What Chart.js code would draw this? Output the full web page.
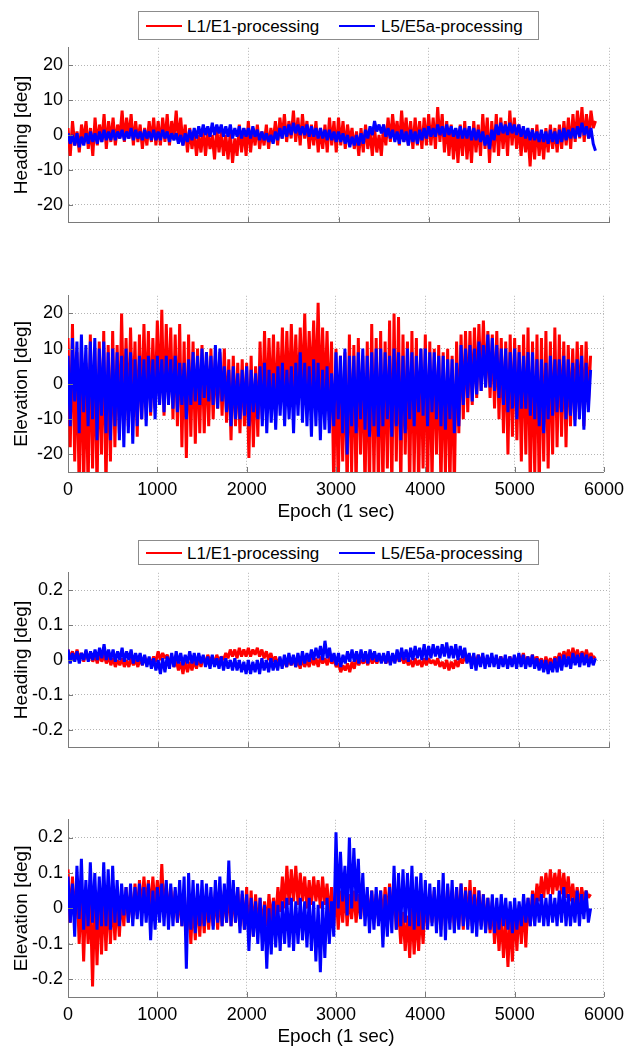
<!DOCTYPE html>
<html>
<head>
<meta charset="utf-8">
<script src="https://cdn.jsdelivr.net/npm/chart.js@4.4.0/dist/chart.umd.min.js"></script>
<style>
  html, body { margin: 0; padding: 0; background: #fff; overflow: hidden; }
  body { position: relative; width: 631px; height: 1049px; font-family: "Liberation Sans", Arial, sans-serif; }
  canvas.panel { position: absolute; left: 0; }
  .legend { position: absolute; left: 138px; width: 399px; border: 1px solid #8c8c8c; background: #fff; z-index: 5; font-size: 17px; color: #000; }
  .legend .line { position: absolute; width: 36px; height: 2px; top: 50%; margin-top: -1px; }
  .legend .txt { position: absolute; top: 50%; transform: translateY(-50%); line-height: 1; white-space: nowrap; }
</style>
</head>
<body>

<div class="legend" style="top:11px;height:27px;">
  <span class="line" style="left:7px;background:#ff0000;"></span><span class="txt" style="left:48px;">L1/E1-processing</span>
  <span class="line" style="left:200px;background:#0000ff;"></span><span class="txt" style="left:242px;">L5/E5a-processing</span>
</div>
<div class="legend" style="top:540px;height:23px;">
  <span class="line" style="left:7px;background:#ff0000;"></span><span class="txt" style="left:48px;">L1/E1-processing</span>
  <span class="line" style="left:200px;background:#0000ff;"></span><span class="txt" style="left:242px;">L5/E5a-processing</span>
</div>

<script>
// sample epochs (1 sec), one reading every 25 epochs
const epochs = [
  0, 25, 50, 75, 100, 125, 150, 175, 200, 225, 250, 275, 300, 325, 350, 375, 400, 425, 450, 475,
  500, 525, 550, 575, 600, 625, 650, 675, 700, 725, 750, 775, 800, 825, 850, 875, 900, 925, 950, 975,
  1000, 1025, 1050, 1075, 1100, 1125, 1150, 1175, 1200, 1225, 1250, 1275, 1300, 1325, 1350, 1375, 1400, 1425, 1450, 1475,
  1500, 1525, 1550, 1575, 1600, 1625, 1650, 1675, 1700, 1725, 1750, 1775, 1800, 1825, 1850, 1875, 1900, 1925, 1950, 1975,
  2000, 2025, 2050, 2075, 2100, 2125, 2150, 2175, 2200, 2225, 2250, 2275, 2300, 2325, 2350, 2375, 2400, 2425, 2450, 2475,
  2500, 2525, 2550, 2575, 2600, 2625, 2650, 2675, 2700, 2725, 2750, 2775, 2800, 2825, 2850, 2875, 2900, 2925, 2950, 2975,
  3000, 3025, 3050, 3075, 3100, 3125, 3150, 3175, 3200, 3225, 3250, 3275, 3300, 3325, 3350, 3375, 3400, 3425, 3450, 3475,
  3500, 3525, 3550, 3575, 3600, 3625, 3650, 3675, 3700, 3725, 3750, 3775, 3800, 3825, 3850, 3875, 3900, 3925, 3950, 3975,
  4000, 4025, 4050, 4075, 4100, 4125, 4150, 4175, 4200, 4225, 4250, 4275, 4300, 4325, 4350, 4375, 4400, 4425, 4450, 4475,
  4500, 4525, 4550, 4575, 4600, 4625, 4650, 4675, 4700, 4725, 4750, 4775, 4800, 4825, 4850, 4875, 4900, 4925, 4950, 4975,
  5000, 5025, 5050, 5075, 5100, 5125, 5150, 5175, 5200, 5225, 5250, 5275, 5300, 5325, 5350, 5375, 5400, 5425, 5450, 5475,
  5500, 5525, 5550, 5575, 5600, 5625, 5650, 5675, 5700, 5725, 5750, 5775, 5800, 5825, 5850
];

// upper block: heading / elevation error [deg]
const l1Heading = [
  2, -6, 4, -3, 1, -5, 3, -2, 4, -4, 2, -6, 5, -3, 3, -2, 6, -4, 4, -2,
  5, -3, 3, -1, 7, -2, 5, -1, 6, -3, 4, -2, 3, -4, 2, -3, 4, -2, 5, -3,
  4, -3, 5, -2, 6, -3, 4, -1, 7, -2, 5, -3, 3, -5, 2, -4, 1, -6, 0, -5,
  2, -6, 1, -4, 0, -7, 2, -5, 1, -6, 0, -7, 1, -8, -1, -6, 3, -5, 2, -6,
  4, -5, 2, -3, 3, -4, 1, -3, 3, -4, 2, -2, 4, -3, 5, -1, 6, -2, 4, -1,
  7, -2, 5, -3, 6, -1, 4, -4, 3, -3, 4, -5, 2, -4, 3, -5, 5, -3, 4, -5,
  5, -3, 4, -4, 3, -2, 2, -4, 1, -6, 2, -5, 3, -4, 1, -6, 2, -5, 0, -6,
  3, -3, 5, -2, 6, -1, 4, -3, 7, -2, 5, -3, 4, -4, 5, -3, 4, -4, 5, -3,
  6, -3, 5, -4, 8, -2, 6, -5, 4, -6, 3, -7, 2, -8, 3, -6, 4, -7, 2, -8,
  4, -5, 3, -6, 6, -4, 5, -8, 4, -5, 6, -6, 5, -4, 4, -6, 7, -3, 5, -4,
  3, -6, 2, -5, 1, -9, 2, -7, 3, -6, 1, -7, 2, -5, 3, -4, 2, -5, 3, -4,
  4, -3, 5, -4, 6, -2, 7, -1, 8, -2, 6, -1, 7, 2, 4
];
const l5Heading = [
  0.5, -2.5, 0, -3, 0.5, -3.5, -0.5, -3, 0.5, -2.5, 1, -2, 0.5, -2.5, 1, -2, 1.5, -1.5, 1, -1.5,
  1.5, -1.5, 1, -1, 1.5, -1.5, 1, -1, 2, -1.5, 1.5, -1, 1, -1.5, 1.5, -1, 1, -1.5, 1.5, -1.5,
  1, -1.5, 1.5, -1, 1, -2, 0.5, -1.5, 0.5, -2.5, 0, -3, 0.5, -2, 1.5, -1.5, 2, -1, 2.5, -0.5,
  3, 0, 2.5, -0.5, 3.5, 0, 3, 0.5, 3, -0.5, 2.5, -0.5, 3, -1, 2, -0.5, 2.5, -1, 2, -0.5,
  2, -1, 2.5, -0.5, 1.5, -1.5, 1, -1.5, 0.5, -2, 0, -2.5, 1, -1.5, 2, -1, 2.5, -0.5, 3, 0,
  3.5, 0.5, 3, 0, 2.5, 0, 3, -0.5, 2.5, -0.5, 2, -1, 2, -1, 1.5, -1.5, 1.5, -1.5, 1, -2,
  1, -2, 0.5, -2.5, 0, -3.5, -0.5, -3, 0, -3, 0.5, -2.5, 1.5, -1, 2.5, 0, 4, 1, 3, 0.5,
  3, -0.5, 2, -1, 1.5, -2, 1, -2.5, 1.5, -2, 1, -3, 1.5, -2, 1, -2.5, 1.5, -1.5, 2, -1,
  2.5, -0.5, 2, -0.5, 3, 0, 2.5, -0.5, 3, 0, 2.5, -0.5, 2, -1, 2.5, -1, 2, -1, 2.5, -1.5,
  2, -1.5, 1.5, -2, 1, -3, 0, -4, 1.5, -1.5, 3, 0, 3.5, 0.5, 3, 0, 3.5, 0.5, 3, 0,
  3, -0.5, 2.5, -1, 2, -1.5, 1.5, -1.5, 1, -2, 1.5, -2, 1, -2.5, 1.5, -2, 1, -2.5, 1.5, -2,
  2, -1.5, 1.5, -1, 2, -1, 2.5, -0.5, 3.5, 0, 2.5, -1, 2, -2.5, -4.5
];
const l1Elevation = [
  13, -18, 17, -22, 9, -30, 12, -30, 6, -30, 14, -24, 10, -30, 12, -20, 15, -30, 11, -22,
  15, -18, 11, -14, 20, -10, 13, -12, 16, -8, 12, -15, 14, -10, 17, -6, 15, -9, 13, -7,
  18, -6, 21, -9, 17, -5, 16, -10, 14, -12, 17, -18, 12, -21, 14, -15, 12, -17, 10, -14,
  11, -14, 9, -12, 10, -10, 8, -7, 9, -9, 10, -11, 7, -16, 8, -12, 6, -14, 7, -12,
  6, -21, 8, -18, 5, -15, 12, -10, 15, -8, 13, -6, 14, -9, 12, -5, 16, -7, 15, -6,
  17, -4, 14, -6, 16, -3, 20, -5, 15, -2, 18, -4, 23, -6, 16, -5, 15, -10, 12, -30,
  10, -30, 8, -22, 9, -30, 14, -25, 11, -30, 13, -20, 8, -30, 12, -30, 17, -26, 13, -30,
  15, -30, 12, -24, 18, -30, 20, -22, 19, -30, 14, -20, 12, -30, 15, -25, 13, -30, 10, -24,
  14, -30, 12, -28, 10, -20, 11, -30, 9, -26, 10, -30, 8, -30, 12, -14, 14, -10, 15, -8,
  15, -6, 16, -4, 17, -2, 18, -1, 15, -4, 14, -7, 15, -10, 13, -14, 12, -20, 14, -15,
  13, -16, 11, -22, 14, -20, 16, -30, 12, -26, 14, -30, 13, -22, 15, -24, 12, -20, 16, -18,
  14, -15, 12, -18, 11, -12, 10, -10, 12, -8, 11, -12, 12, -6, 8
];
const l5Elevation = [
  8, -12, 13, -5, 12, -14, 14, -8, 11, -12, 12, -10, 13, -16, 10, -9, 12, -14, 9, -16,
  10, -12, 9, -16, 8, -18, 10, -14, 9, -17, 7, -12, 8, -10, 7, -12, 8, -8, 7, -10,
  8, -6, 7, -8, 8, -6, 7, -7, 8, -8, 6, -6, 6, -10, 7, -6, 9, -5, 8, -6,
  10, -4, 9, -5, 8, -6, 11, -7, 10, -5, 5, -8, 4, -12, 5, -10, 3, -10, 4, -9,
  5, -12, 4, -8, 3, -10, 5, -12, 6, -14, 4, -11, 3, -13, 5, -9, 6, -12, 4, -10,
  5, -14, 6, -9, 9, -11, 6, -12, 5, -15, 7, -12, 6, -16, 4, -13, 5, -14, 3, -12,
  9, -10, 8, -14, 10, -20, 8, -12, 8, -14, 9, -10, 10, -13, 8, -15, 9, -12, 10, -15,
  10, -12, 9, -10, 8, -15, 10, -12, 9, -16, 8, -14, 10, -10, 9, -12, 8, -8, 10, -9,
  10, -12, 9, -8, 9, -10, 8, -12, 8, -13, 7, -10, 7, -14, 6, -12, 11, -6, 10, -4,
  11, -5, 10, -3, 12, -2, 11, -1, 14, -1, 13, -2, 11, -4, 10, -6, 10, -8, 9, -7,
  10, -10, 9, -7, 8, -7, 9, -9, 9, -10, 7, -12, 7, -14, 6, -10, 8, -9, 7, -8,
  7, -8, 8, -10, 7, -9, 6, -12, 7, -10, 8, -13, 6, -8, 4
];

// lower block: heading / elevation error [deg]
const l1HeadingFix = [
  0.03, 0.005, 0.025, 0.0, 0.03, 0.005, 0.02, -0.005, 0.025, 0.0, 0.02, -0.005, 0.015, -0.01, 0.02, -0.005, 0.015, -0.01, 0.01, -0.015,
  0.005, -0.02, 0.0, -0.015, 0.005, -0.02, 0.0, -0.02, 0.005, -0.015, 0.0, -0.02, 0.005, -0.015, 0.01, -0.01, 0.005, -0.01, 0.01, -0.005,
  0.025, 0.0, 0.02, 0.005, 0.015, -0.005, 0.005, -0.02, 0.0, -0.03, -0.005, -0.04, 0.0, -0.035, -0.005, -0.03, 0.0, -0.025, 0.005, -0.02,
  0.01, -0.01, 0.015, -0.005, 0.01, -0.01, 0.015, -0.005, 0.01, 0.0, 0.02, 0.005, 0.03, 0.01, 0.03, 0.005, 0.035, 0.01, 0.03, 0.01,
  0.035, 0.01, 0.03, 0.015, 0.035, 0.01, 0.03, 0.005, 0.025, 0.0, 0.02, -0.005, 0.01, -0.01, 0.005, -0.015, 0.0, -0.02, 0.005, -0.015,
  0.005, -0.02, 0.0, -0.025, 0.005, -0.02, 0.0, -0.02, 0.01, -0.015, 0.005, -0.02, 0.01, -0.01, 0.005, -0.015, 0.01, -0.01, 0.0, -0.02,
  -0.01, -0.035, -0.015, -0.03, -0.01, -0.035, -0.005, -0.025, 0.005, -0.015, 0.0, -0.01, 0.005, -0.015, 0.01, -0.01, 0.005, -0.01, 0.01, -0.005,
  0.01, -0.01, 0.005, -0.01, 0.01, -0.005, 0.015, -0.005, 0.01, -0.01, 0.005, -0.015, 0.0, -0.02, 0.005, -0.015, 0.0, -0.02, 0.005, -0.015,
  0.005, -0.01, 0.0, -0.015, 0.005, -0.02, -0.005, -0.025, 0.0, -0.03, -0.005, -0.025, 0.0, -0.02, 0.005, -0.01, 0.01, -0.005, 0.015, 0.0,
  0.01, -0.01, 0.015, -0.005, 0.01, -0.01, 0.005, -0.01, 0.01, -0.005, 0.005, -0.01, 0.01, -0.01, 0.005, -0.015, 0.01, -0.01, 0.005, -0.01,
  0.015, -0.005, 0.02, -0.01, 0.01, -0.015, 0.015, -0.005, 0.01, -0.01, 0.005, -0.02, 0.01, -0.015, 0.005, -0.015, 0.01, -0.005, 0.02, 0.0,
  0.025, 0.005, 0.03, 0.0, 0.035, 0.005, 0.03, 0.0, 0.025, 0.005, 0.03, 0.0, 0.02, 0.005, 0.01
];
const l5HeadingFix = [
  0.03, -0.01, 0.02, -0.005, 0.025, -0.01, 0.02, 0.0, 0.03, -0.005, 0.025, 0.0, 0.03, 0.0, 0.035, 0.005, 0.045, 0.0, 0.03, 0.0,
  0.03, -0.005, 0.025, 0.0, 0.035, -0.005, 0.025, 0.0, 0.03, -0.01, 0.02, -0.005, 0.02, -0.015, 0.015, -0.02, 0.01, -0.025, 0.005, -0.03,
  0.0, -0.04, 0.005, -0.035, 0.01, -0.025, 0.02, -0.02, 0.025, -0.01, 0.02, -0.015, 0.015, -0.01, 0.025, -0.01, 0.02, -0.015, 0.02, -0.01,
  0.015, -0.02, 0.01, -0.025, 0.015, -0.02, 0.005, -0.025, 0.01, -0.03, 0.005, -0.025, 0.0, -0.03, 0.005, -0.03, 0.0, -0.035, -0.005, -0.04,
  0.0, -0.04, -0.005, -0.035, 0.0, -0.04, 0.005, -0.03, 0.0, -0.035, 0.005, -0.03, 0.0, -0.03, 0.01, -0.025, 0.015, -0.02, 0.02, -0.015,
  0.015, -0.02, 0.02, -0.015, 0.025, -0.01, 0.02, -0.005, 0.03, 0.0, 0.035, 0.005, 0.04, 0.0, 0.055, 0.005, 0.035, -0.005, 0.02, -0.015,
  0.02, -0.02, 0.015, -0.01, 0.025, -0.005, 0.03, -0.005, 0.025, -0.01, 0.03, -0.005, 0.025, -0.01, 0.03, 0.0, 0.025, -0.005, 0.02, -0.01,
  0.02, -0.01, 0.025, -0.015, 0.02, -0.01, 0.03, -0.005, 0.035, 0.0, 0.03, -0.005, 0.035, 0.0, 0.04, 0.005, 0.035, 0.0, 0.045, 0.0,
  0.04, 0.005, 0.045, 0.01, 0.04, 0.005, 0.045, 0.01, 0.05, 0.005, 0.04, 0.005, 0.045, 0.0, 0.04, 0.005, 0.035, -0.01, 0.02, -0.025,
  0.02, -0.03, 0.015, -0.02, 0.02, -0.025, 0.015, -0.02, 0.02, -0.02, 0.015, -0.025, 0.01, -0.02, 0.015, -0.025, 0.01, -0.02, 0.015, -0.025,
  0.02, -0.02, 0.015, -0.025, 0.01, -0.02, 0.015, -0.025, 0.005, -0.03, 0.0, -0.035, 0.0, -0.04, -0.005, -0.035, 0.005, -0.035, 0.01, -0.03,
  0.015, -0.02, 0.01, -0.025, 0.02, -0.015, 0.015, -0.02, 0.02, -0.015, 0.015, -0.02, 0.01, -0.015, 0.005
];
const l1ElevationFix = [
  0.11, -0.04, 0.09, -0.03, 0.08, -0.1, 0.05, -0.15, 0.04, -0.1, 0.03, -0.22, 0.04, -0.16, 0.05, -0.13, 0.04, -0.12, 0.05, -0.1,
  0.04, -0.09, 0.03, -0.08, 0.04, -0.05, 0.06, -0.04, 0.05, -0.03, 0.07, -0.02, 0.08, -0.01, 0.09, 0.0, 0.08, -0.01, 0.09, 0.0,
  0.08, -0.01, 0.125, -0.02, 0.07, -0.03, 0.06, -0.02, 0.05, -0.04, 0.04, -0.05, 0.03, -0.08, 0.04, -0.1, 0.03, -0.09, 0.04, -0.08,
  0.03, -0.07, 0.04, -0.06, 0.03, -0.05, 0.05, -0.06, 0.04, -0.05, 0.05, -0.04, 0.06, -0.05, 0.05, -0.04, 0.06, -0.05, 0.04, -0.06,
  0.06, -0.09, 0.05, -0.08, 0.04, -0.07, 0.03, -0.06, 0.02, -0.05, 0.04, -0.04, 0.03, -0.03, 0.06, -0.01, 0.09, 0.0, 0.12, 0.01,
  0.11, 0.02, 0.12, 0.01, 0.1, 0.02, 0.09, 0.0, 0.08, 0.01, 0.09, 0.02, 0.08, 0.0, 0.09, 0.01, 0.07, -0.03, 0.06, -0.05,
  0.06, -0.06, 0.05, -0.04, 0.06, -0.05, 0.04, -0.03, 0.05, -0.04, 0.04, -0.03, 0.05, -0.02, 0.04, -0.03, 0.05, -0.04, 0.04, -0.03,
  0.05, -0.04, 0.06, -0.03, 0.07, -0.02, 0.05, -0.06, 0.0, -0.1, -0.01, -0.12, -0.02, -0.14, 0.0, -0.13, -0.01, -0.12, 0.0, -0.1,
  0.03, -0.05, 0.04, -0.04, 0.05, -0.05, 0.04, -0.06, 0.05, -0.05, 0.06, -0.04, 0.05, -0.06, 0.06, -0.05, 0.07, -0.06, 0.06, -0.05,
  0.08, -0.05, 0.06, -0.04, 0.05, -0.05, 0.04, -0.06, 0.03, -0.07, 0.02, -0.1, 0.0, -0.12, -0.02, -0.14, -0.03, -0.165, -0.02, -0.15,
  0.0, -0.12, 0.01, -0.1, 0.02, -0.11, 0.03, -0.05, 0.05, 0.0, 0.07, 0.02, 0.09, 0.03, 0.1, 0.04, 0.11, 0.04, 0.1, 0.05,
  0.11, 0.04, 0.1, 0.03, 0.09, 0.02, 0.07, 0.01, 0.06, 0.0, 0.06, 0.02, 0.05, 0.03, 0.04
];
const l5ElevationFix = [
  0.09, -0.04, 0.07, -0.08, 0.12, -0.03, 0.14, -0.06, 0.08, -0.05, 0.13, -0.04, 0.1, -0.06, 0.09, -0.05, 0.13, -0.05, 0.11, -0.06,
  0.12, -0.04, 0.08, -0.05, 0.07, -0.02, 0.06, -0.04, 0.07, -0.05, 0.06, -0.03, 0.07, -0.05, 0.06, -0.04, 0.07, -0.09, 0.05, -0.06,
  0.06, -0.04, 0.07, -0.05, 0.08, -0.06, 0.07, -0.05, 0.06, -0.04, 0.08, -0.05, 0.09, -0.17, 0.1, -0.06, 0.08, -0.07, 0.07, -0.05,
  0.08, -0.05, 0.07, -0.04, 0.06, -0.06, 0.08, -0.04, 0.09, -0.05, 0.07, -0.04, 0.135, -0.05, 0.08, -0.04, 0.06, -0.07, 0.05, -0.06,
  0.04, -0.12, 0.03, -0.08, 0.02, -0.1, 0.03, -0.12, 0.01, -0.17, 0.0, -0.13, 0.02, -0.11, 0.01, -0.12, 0.02, -0.1, 0.03, -0.11,
  0.03, -0.12, 0.02, -0.1, 0.03, -0.09, 0.02, -0.11, 0.03, -0.12, 0.02, -0.15, 0.01, -0.18, 0.02, -0.14, 0.03, -0.1, 0.02, -0.08,
  0.215, 0.0, 0.16, 0.02, 0.12, -0.02, 0.2, 0.0, 0.17, 0.02, 0.14, -0.03, 0.1, -0.05, 0.06, -0.07, 0.05, -0.06, 0.06, -0.05,
  0.05, -0.11, 0.04, -0.08, 0.06, -0.07, 0.12, -0.06, 0.1, -0.05, 0.11, -0.04, 0.1, -0.05, 0.12, -0.06, 0.09, -0.05, 0.1, -0.06,
  0.08, -0.06, 0.07, -0.05, 0.06, -0.07, 0.08, -0.08, 0.1, -0.09, 0.07, -0.06, 0.08, -0.07, 0.06, -0.06, 0.07, -0.05, 0.05, -0.06,
  0.05, -0.07, 0.04, -0.08, 0.05, -0.06, 0.04, -0.07, 0.03, -0.06, 0.04, -0.07, 0.03, -0.06, 0.04, -0.05, 0.03, -0.06, 0.02, -0.07,
  0.03, -0.06, 0.02, -0.05, 0.04, -0.04, 0.03, -0.05, 0.04, -0.05, 0.03, -0.04, 0.04, -0.05, 0.03, -0.05, 0.04, -0.04, 0.03, -0.05,
  0.05, -0.04, 0.06, -0.05, 0.04, -0.05, 0.03, -0.04, 0.05, -0.05, 0.04, -0.03, 0.05, -0.04, 0.0
];

// tick labels
const epochTicks = [0, 1000, 2000, 3000, 4000, 5000, 6000];
const degTicks = [-20, -10, 0, 10, 20];
const fixTicks = [-0.2, -0.1, 0, 0.1, 0.2];

const FONT = '"Liberation Sans", Arial, sans-serif';
const axisColor = '#7a7a7a';
const gridColor = '#b4b4b4';

Chart.defaults.font.family = FONT;
Chart.defaults.color = '#000';

// MATLAB style tick marks pointing into the axes
const innerTicks = {
  id: 'innerTicks',
  afterDatasetsDraw(chart) {
    const { ctx, chartArea: a, scales: { x, y } } = chart;
    ctx.save();
    ctx.strokeStyle = axisColor;
    ctx.lineWidth = 1;
    ctx.beginPath();
    x.ticks.forEach(t => {
      const px = Math.round(x.getPixelForValue(t.value)) + 0.5;
      ctx.moveTo(px, a.bottom);
      ctx.lineTo(px, a.bottom - 5);
    });
    y.ticks.forEach(t => {
      const py = Math.round(y.getPixelForValue(t.value)) + 0.5;
      ctx.moveTo(a.left, py);
      ctx.lineTo(a.left + 5, py);
    });
    ctx.stroke();
    ctx.restore();
  }
};

function toXY(values) {
  return values.map((v, i) => ({ x: epochs[i], y: v }));
}

function makePanel(p) {
  const padTop = 14;
  const bottomSpace = p.xLabels ? 56 : 14;
  const h = p.bottom - p.top + padTop + bottomSpace;
  const canvas = document.createElement('canvas');
  canvas.className = 'panel';
  canvas.width = 631;
  canvas.height = h;
  canvas.style.top = (p.top - padTop) + 'px';
  canvas.style.width = '631px';
  canvas.style.height = h + 'px';
  document.body.appendChild(canvas);

  new Chart(canvas, {
    type: 'line',
    data: {
      datasets: [
        { label: 'L5/E5a-processing', data: toXY(p.l5), borderColor: '#0000ff' },
        { label: 'L1/E1-processing', data: toXY(p.l1), borderColor: '#ff0000' }
      ]
    },
    options: {
      responsive: false,
      animation: false,
      events: [],
      layout: { padding: { top: padTop, right: 22, left: 0, bottom: 0 } },
      plugins: { legend: { display: false }, tooltip: { enabled: false } },
      elements: {
        point: { radius: 0 },
        line: { borderWidth: 3, tension: 0, fill: false, borderJoinStyle: 'bevel' }
      },
      scales: {
        x: {
          type: 'linear',
          min: 0,
          max: 6000,
          afterBuildTicks: s => { s.ticks = epochTicks.map(v => ({ value: v })); },
          afterFit: s => { s.height = bottomSpace; },
          grid: { color: gridColor, lineWidth: 1, drawTicks: false },
          border: { display: true, color: axisColor, width: 1, dash: [1, 2] },
          ticks: {
            display: p.xLabels,
            padding: 7,
            maxRotation: 0,
            autoSkip: false,
            font: { size: 18 },
            callback: v => String(v)
          },
          title: {
            display: p.xLabels,
            text: 'Epoch (1 sec)',
            font: { size: 19 },
            padding: { top: 0, bottom: 5 }
          }
        },
        y: {
          min: p.min,
          max: p.max,
          afterBuildTicks: s => { s.ticks = p.ticks.map(v => ({ value: v })); },
          afterFit: s => { s.width = 68; },
          grid: { color: gridColor, lineWidth: 1, drawTicks: false },
          border: { display: true, color: axisColor, width: 1, dash: [1, 2] },
          ticks: {
            padding: 5,
            font: { size: 18 },
            callback: v => String(Math.round(v * 100) / 100)
          },
          title: {
            display: true,
            text: p.title,
            font: { size: 19 },
            padding: { top: 10, bottom: 0 }
          }
        }
      }
    },
    plugins: [innerTicks]
  });
}

const panels = [
  { top: 46, bottom: 224, min: -25, max: 25, ticks: degTicks, title: 'Heading [deg]', l1: l1Heading, l5: l5Heading, xLabels: false },
  { top: 294, bottom: 472, min: -25, max: 25, ticks: degTicks, title: 'Elevation [deg]', l1: l1Elevation, l5: l5Elevation, xLabels: true },
  { top: 571, bottom: 749, min: -0.25, max: 0.25, ticks: fixTicks, title: 'Heading [deg]', l1: l1HeadingFix, l5: l5HeadingFix, xLabels: false },
  { top: 818, bottom: 997, min: -0.25, max: 0.25, ticks: fixTicks, title: 'Elevation [deg]', l1: l1ElevationFix, l5: l5ElevationFix, xLabels: true }
];

panels.forEach(makePanel);
</script>
</body>
</html>
